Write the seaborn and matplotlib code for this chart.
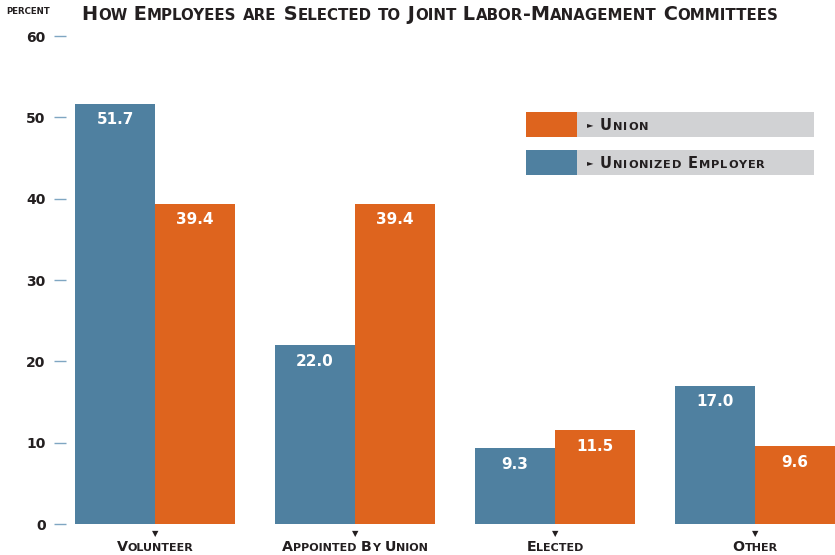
import matplotlib
matplotlib.use("Agg")
import matplotlib.pyplot as plt
from matplotlib.patches import Rectangle
from matplotlib.offsetbox import TextArea, HPacker, AnnotationBbox
import seaborn as sns
import pandas as pd

categories = ["Volunteer", "Appointed By Union", "Elected", "Other"]
employer_pct = [51.7, 22.0, 9.3, 17.0]
union_pct = [39.4, 39.4, 11.5, 9.6]
yticks = [0, 10, 20, 30, 40, 50, 60]

BLUE = "#4f80a0"
ORANGE = "#de641e"
GREY = "#d1d2d4"
INK = "#231f20"

sns.set_style("white")
plt.rcParams["font.family"] = ["DejaVu Sans"]


def small_caps(text, size, color=INK, ratio=0.78, sep=0):
    """Builds a fake small-caps line out of TextAreas."""
    runs = []
    for ch in text:
        low = ch.islower()
        if runs and runs[-1][0] == low:
            runs[-1][1] += ch
        else:
            runs.append([low, ch])
    kids = []
    for low, s in runs:
        props = dict(size=size * ratio if low else size, weight="bold", color=color)
        if sep:
            # spread letters out a little (used for the legend)
            for c in s:
                kids.append(TextArea(c.upper(), textprops=props))
        else:
            kids.append(TextArea(s.upper(), textprops=props))
    return HPacker(children=kids, align="baseline", pad=0, sep=sep)


def put(ax, box, xy, xycoords, align=(0.5, 0.5)):
    ab = AnnotationBbox(box, xy, xycoords=xycoords, box_alignment=align,
                        frameon=False, pad=0, annotation_clip=False)
    ab.set_zorder(5)
    ax.add_artist(ab)


df = pd.DataFrame({
    "category": categories * 2,
    "group": ["Unionized Employer"] * 4 + ["Union"] * 4,
    "pct": employer_pct + union_pct,
})

fig = plt.figure(figsize=(8.35, 5.55), dpi=100)
ax = fig.add_axes([66 / 835, 31 / 555, 769 / 835, 488 / 555])

sns.barplot(data=df, x="category", y="pct", hue="group",
            hue_order=["Unionized Employer", "Union"],
            palette=[BLUE, ORANGE], width=0.8, saturation=1,
            linewidth=0, legend=False, ax=ax)

for cont in ax.containers:
    ax.bar_label(cont, fmt="%.1f", padding=-17, color="white",
                 fontsize=11, fontweight="bold")

ax.set_xlim(-0.445, 3.4)
ax.set_ylim(0, 60)
ax.set_yticks(yticks)
ax.set_yticklabels([str(v) for v in yticks], fontsize=10, fontweight="bold",
                   color=INK)
ax.tick_params(axis="y", left=True, length=8.6, width=1, color="#7fa6c2", pad=6)
ax.set_xticks(range(len(categories)))
ax.set_xticklabels([])
ax.tick_params(axis="x", bottom=False)
ax.set_xlabel("")
ax.set_ylabel("")
sns.despine(ax=ax, left=True, bottom=True)

# category labels with a little pointer above each
xform = ax.get_xaxis_transform()
for i, cat in enumerate(categories):
    ax.text(i, -0.019, "\u25bc", transform=xform, ha="center", va="center",
            fontsize=6, color=INK, clip_on=False)
    put(ax, small_caps(cat, 10.3), (i, -0.048), xform)

# title and axis unit
put(ax, small_caps("How Employees are Selected to Joint Labor-Management Committees", 13.9),
    (430 / 835, 1 - 15 / 555), "figure fraction")
put(ax, small_caps("percent", 6.2, ratio=1.0), (28 / 835, 1 - 12 / 555), "figure fraction")

# legend as coloured chips on grey bands
for top, color, label in [(112, ORANGE, "Union"), (150, BLUE, "Unionized Employer")]:
    y0 = (555 - top - 25) / 555
    ax.add_artist(Rectangle((577 / 835, y0), 237 / 835, 25 / 555,
                            transform=fig.transFigure, color=GREY, lw=0,
                            clip_on=False, zorder=3))
    ax.add_artist(Rectangle((526 / 835, y0), 51 / 835, 25 / 555,
                            transform=fig.transFigure, color=color, lw=0,
                            clip_on=False, zorder=3))
    ax.text(587 / 835, y0 + 12.5 / 555, "\u25ba", transform=fig.transFigure,
            ha="left", va="center", fontsize=6, color=INK, zorder=5)
    put(ax, small_caps(label, 10.5, sep=0.6), (600 / 835, y0 + 12 / 555), "figure fraction",
        align=(0, 0.5))

fig.savefig("out.png", dpi=100)
